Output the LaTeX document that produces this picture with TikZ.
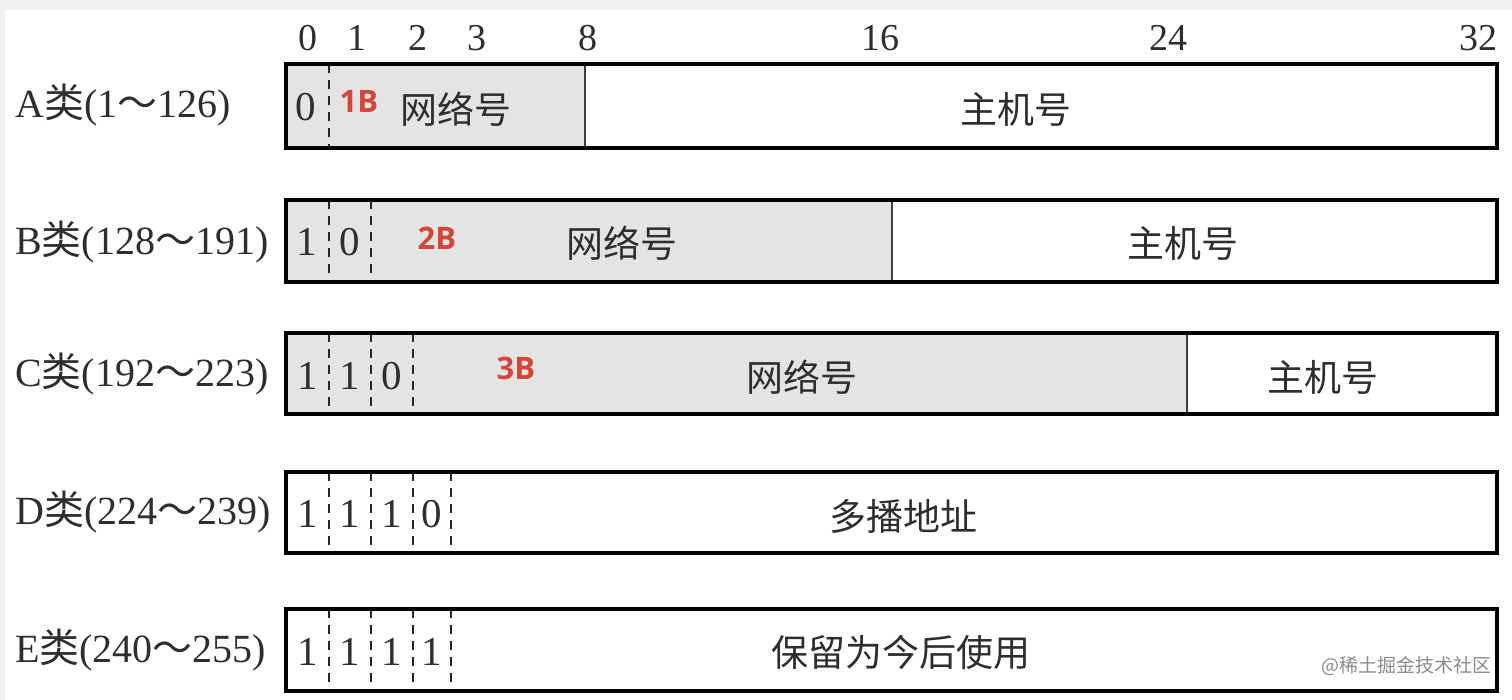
\documentclass[tikz,border=0pt]{standalone}
\usepackage{fontspec}
\setmainfont{Liberation Serif}
\newfontfamily\cjk{Noto Sans CJK SC}
\newfontfamily\redsans{Open Sans}
\definecolor{bggray}{HTML}{F1F1F1}
\definecolor{cellgray}{HTML}{E4E4E4}
\definecolor{txt}{HTML}{2E2E2E}
\definecolor{redlab}{HTML}{D2473A}
\tikzset{
  digit/.style={inner sep=0pt, text=txt, font=\fontsize{41}{41}\selectfont},
  toplab/.style={inner sep=0pt, text=txt, font=\fontsize{38}{38}\selectfont},
  rowlab/.style={inner sep=0pt, anchor=west, text=txt, font=\fontsize{40}{40}\selectfont},
  cntext/.style={inner sep=0pt, text=txt, font=\cjk\fontsize{37}{37}\selectfont},
  redtag/.style={inner sep=0pt, text=redlab, font=\redsans\bfseries\fontsize{31}{31}\selectfont},
  frame/.style={draw=black, line width=3.5pt},
  solidsep/.style={draw=black!75, line width=1.8pt},
  dashsep/.style={draw=black!85, line width=2pt, dash pattern=on 9pt off 7pt},
  wmark/.style={inner sep=0pt, text=black!45, font=\cjk\fontsize{19}{19}\selectfont}
}
\begin{document}
\begin{tikzpicture}[x=1pt,y=-1pt]
\useasboundingbox (0,0) rectangle (1512,700);
\fill[bggray] (0,0) rectangle (1512,700);
\fill[white] (5,10) rectangle (1512,700);
% top bit labels
\foreach \n/\x in {0/308,1/357,2/418,3/477,8/588,16/880,24/1168,32/1478}
  \node[toplab] (t\n) at (\x,38) {\n};
% row labels
\node[rowlab] (la) at (15,105) {A{\cjk 类}(1{\cjk ～}126)};
\node[rowlab] (lb) at (15,242) {B{\cjk 类}(128{\cjk ～}191)};
\node[rowlab] (lc) at (15,374) {C{\cjk 类}(192{\cjk ～}223)};
\node[rowlab] (ld) at (15,512) {D{\cjk 类}(224{\cjk ～}239)};
\node[rowlab] (le) at (15,650) {E{\cjk 类}(240{\cjk ～}255)};
% A
\fill[cellgray] (286,64) rectangle (585,148);
\draw[solidsep] (585,64) -- (585,148);
\draw[dashsep] (329,64) -- (329,148);
\draw[frame] (286,64) rectangle (1497,148);
\node[digit] (a0) at (306,107) {0};
\node[redtag] (a1b) at (359,101) {1B};
\node[cntext] (anet) at (456,109) {网络号};
\node[cntext] (ahost) at (1016,109) {主机号};
% B
\fill[cellgray] (286,200) rectangle (892,282);
\draw[solidsep] (892,200) -- (892,282);
\foreach \x in {329,371} \draw[dashsep] (\x,200) -- (\x,282);
\draw[frame] (286,200) rectangle (1497,282);
\node[digit] (b0) at (307,242) {1};
\node[digit] (b1) at (350,242) {0};
\node[redtag] (b2b) at (437,238) {2B};
\node[cntext] (bnet) at (622,243) {网络号};
\node[cntext] (bhost) at (1183,243) {主机号};
% C
\fill[cellgray] (286,333) rectangle (1187,414);
\draw[solidsep] (1187,333) -- (1187,414);
\foreach \x in {329,371,413} \draw[dashsep] (\x,333) -- (\x,414);
\draw[frame] (286,333) rectangle (1497,414);
\node[digit] (c0) at (308,376) {1};
\node[digit] (c1) at (350,376) {1};
\node[digit] (c2) at (392,376) {0};
\node[redtag] (c3b) at (516,368) {3B};
\node[cntext] (cnet) at (802,377) {网络号};
\node[cntext] (chost) at (1323,377) {主机号};
% D
\foreach \x in {329,371,413,451} \draw[dashsep] (\x,472) -- (\x,553);
\draw[frame] (286,472) rectangle (1497,553);
\node[digit] (d0) at (308,514) {1};
\node[digit] (d1) at (350,514) {1};
\node[digit] (d2) at (392,514) {1};
\node[digit] (d3) at (432,514) {0};
\node[cntext] (dtxt) at (903,516) {多播地址};
% E
\foreach \x in {329,371,413,451} \draw[dashsep] (\x,609) -- (\x,691);
\draw[frame] (286,609) rectangle (1497,691);
\node[digit] (e0) at (308,652) {1};
\node[digit] (e1) at (350,652) {1};
\node[digit] (e2) at (392,652) {1};
\node[digit] (e3) at (432,652) {1};
\node[cntext] (etxt) at (901,652) {保留为今后使用};
% watermark
\node[wmark, anchor=east] (wm) at (1492,666) {@稀土掘金技术社区};
\end{tikzpicture}
\end{document}
